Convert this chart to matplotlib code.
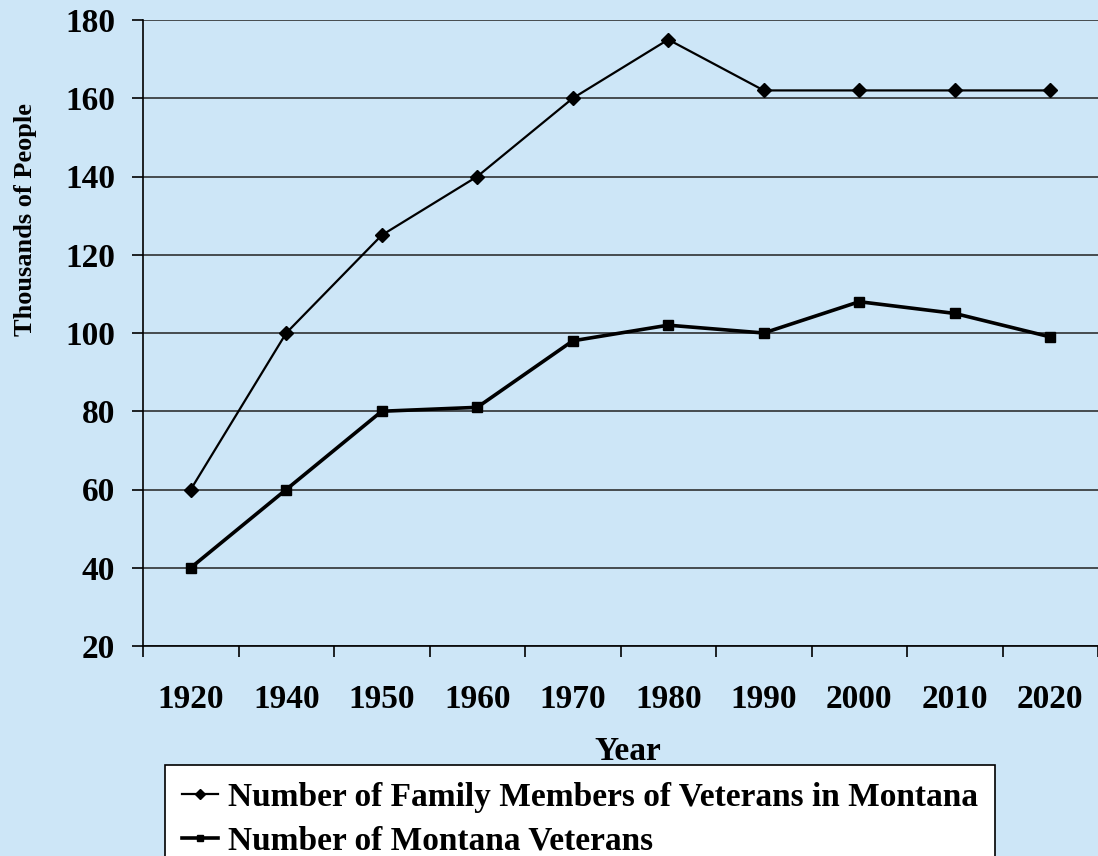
import matplotlib
matplotlib.use("Agg")
import matplotlib.pyplot as plt
from matplotlib.ticker import FixedLocator
import numpy as np

years = ["1920", "1940", "1950", "1960", "1970", "1980", "1990", "2000", "2010", "2020"]
family_members = [60, 100, 125, 140, 160, 175, 162, 162, 162, 162]
veterans = [40, 60, 80, 81, 98, 102, 100, 108, 105, 99]
y_ticks = [20, 40, 60, 80, 100, 120, 140, 160, 180]

plt.rcParams['font.family'] = ['Liberation Serif', 'DejaVu Serif']
plt.rcParams['font.weight'] = 'bold'

bg = '#cde6f7'
fig = plt.figure(figsize=(10.98, 8.56), dpi=100, facecolor=bg)
ax = fig.add_axes([143/1098, 1-646/856, 1-143/1098, (646-20)/856])
ax.set_facecolor(bg)

x = np.arange(len(years))
ax.plot(x, family_members, color='black', lw=1.6, marker='D', markersize=7,
        label='Number of Family Members of Veterans in Montana', zorder=3)
ax.plot(x, veterans, color='black', lw=2.6, marker='s', markersize=6.5,
        label='Number of Montana Veterans', zorder=3)

ax.set_xlim(-0.5, len(years) - 0.5)
ax.set_ylim(20, 180)
ax.set_yticks(y_ticks)
ax.set_yticklabels([str(v) for v in y_ticks], fontsize=24, fontweight='bold')
ax.set_xticks(x)
ax.set_xticklabels(years, fontsize=24, fontweight='bold')
ax.xaxis.set_minor_locator(FixedLocator(np.arange(-0.5, len(years) - 0.4, 1.0)))
ax.tick_params(axis='x', which='major', length=0, pad=27)
ax.tick_params(axis='x', which='minor', length=8, width=1.2, direction='out', color='black')
ax.tick_params(axis='y', which='major', length=8, width=1.2, direction='out', pad=12)

ax.grid(axis='y', color='#222222', lw=1.1, zorder=1)
for s in ['top', 'right']:
    ax.spines[s].set_visible(False)
for s in ['left', 'bottom']:
    ax.spines[s].set_linewidth(1.2)

ax.set_ylabel('Thousands of People', fontsize=19, fontweight='bold')
ax.yaxis.set_label_coords(-(143-37)/955, (646-220)/626)
ax.set_xlabel('Year', fontsize=24, fontweight='bold')
ax.xaxis.set_label_coords((628-143)/955, -(736-646)/626)

leg = fig.legend(loc='upper left', bbox_to_anchor=(165/1098, 1-765/856),
                 prop={'family': 'Liberation Serif', 'weight': 'bold', 'size': 24},
                 frameon=True, fancybox=False, edgecolor='black', facecolor='white',
                 framealpha=1, handlelength=1.1, handletextpad=0.3, borderpad=0.5,
                 labelspacing=0.4, markerscale=0.7, borderaxespad=0)
leg.get_frame().set_linewidth(1.2)

fig.savefig('out.png', dpi=100, facecolor=bg)
